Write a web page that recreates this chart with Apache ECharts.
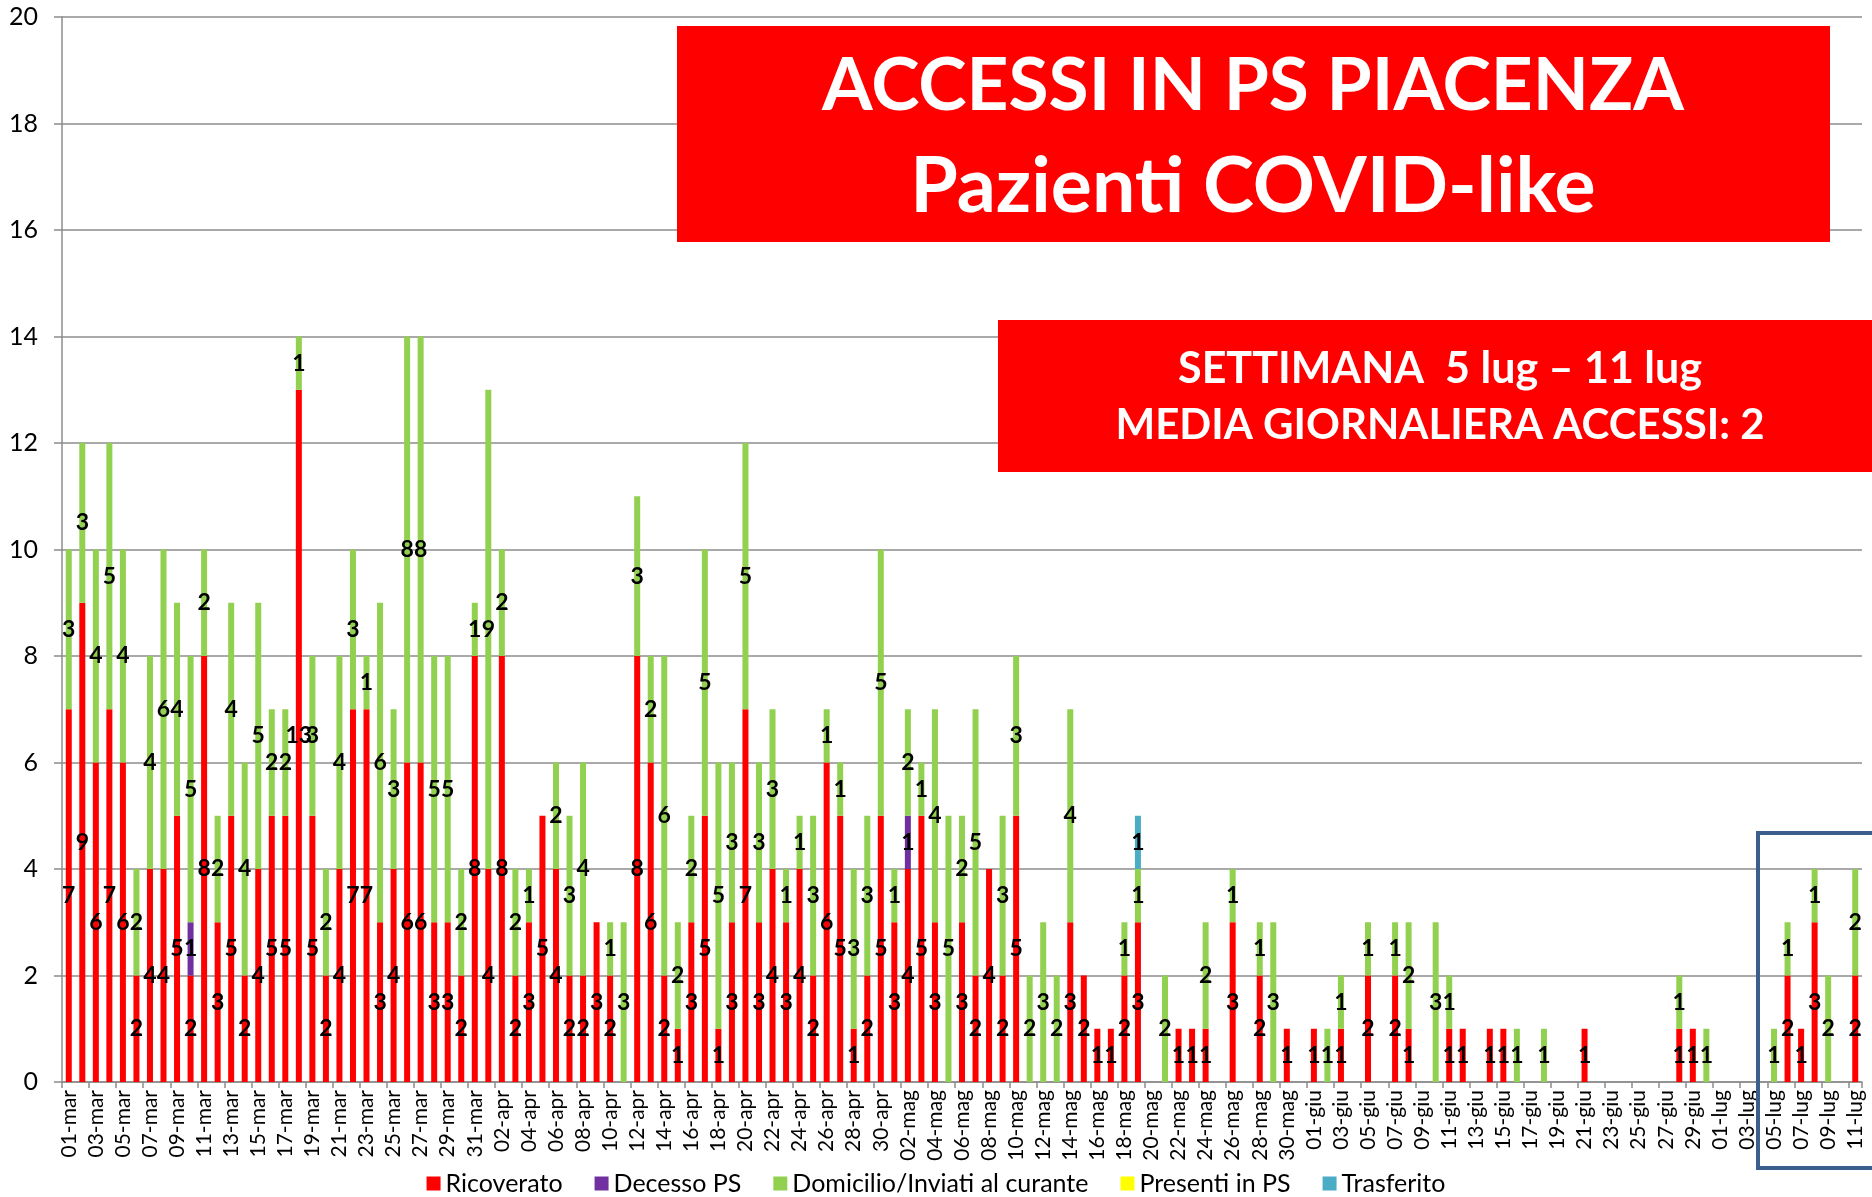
<!DOCTYPE html>
<html>
<head>
<meta charset="utf-8">
<script src="https://cdn.jsdelivr.net/npm/echarts@6/dist/echarts.min.js"></script>
<style>
html,body{margin:0;padding:0;background:#fff;}
#chart{width:1872px;height:1197px;}
</style>
</head>
<body>
<div id="chart"></div>
<script>
const categories = [
 '01-mar','02-mar','03-mar','04-mar','05-mar','06-mar','07-mar','08-mar','09-mar','10-mar','11-mar','12-mar','13-mar','14-mar','15-mar','16-mar','17-mar','18-mar','19-mar','20-mar','21-mar','22-mar','23-mar','24-mar','25-mar','26-mar','27-mar','28-mar','29-mar','30-mar','31-mar',
 '01-apr','02-apr','03-apr','04-apr','05-apr','06-apr','07-apr','08-apr','09-apr','10-apr','11-apr','12-apr','13-apr','14-apr','15-apr','16-apr','17-apr','18-apr','19-apr','20-apr','21-apr','22-apr','23-apr','24-apr','25-apr','26-apr','27-apr','28-apr','29-apr','30-apr',
 '01-mag','02-mag','03-mag','04-mag','05-mag','06-mag','07-mag','08-mag','09-mag','10-mag','11-mag','12-mag','13-mag','14-mag','15-mag','16-mag','17-mag','18-mag','19-mag','20-mag','21-mag','22-mag','23-mag','24-mag','25-mag','26-mag','27-mag','28-mag','29-mag','30-mag','31-mag',
 '01-giu','02-giu','03-giu','04-giu','05-giu','06-giu','07-giu','08-giu','09-giu','10-giu','11-giu','12-giu','13-giu','14-giu','15-giu','16-giu','17-giu','18-giu','19-giu','20-giu','21-giu','22-giu','23-giu','24-giu','25-giu','26-giu','27-giu','28-giu','29-giu','30-giu',
 '01-lug','02-lug','03-lug','04-lug','05-lug','06-lug','07-lug','08-lug','09-lug','10-lug','11-lug'
];

const ricoverato = [
 7,9,6,7,6,2,4,4,5,2, 8,3,5,2,4,5,5,13,5,2, 4,7,7,3,4,6,6,3,3,2,8,
 4,8,2,3,5,4,2,2,3,2, 0,8,6,2,1,3,5,1,3,7, 3,4,3,4,2,6,5,1,2,5,
 3,4,5,3,0,3,2,4,2,5, 0,0,0,3,2,1,1,2,3,0, 0,1,1,1,0,3,0,2,0,1,0,
 1,0,1,0,2,0,2,1,0,0, 1,1,0,1,1,0,0,0,0,0, 1,0,0,0,0,0,0,1,1,0,
 0,0,0,0,0,2,1,3,0,0,2
];
const decessoPS = [
 0,0,0,0,0,0,0,0,0,1, 0,0,0,0,0,0,0,0,0,0, 0,0,0,0,0,0,0,0,0,0,0,
 0,0,0,0,0,0,0,0,0,0, 0,0,0,0,0,0,0,0,0,0, 0,0,0,0,0,0,0,0,0,0,
 0,1,0,0,0,0,0,0,0,0, 0,0,0,0,0,0,0,0,0,0, 0,0,0,0,0,0,0,0,0,0,0,
 0,0,0,0,0,0,0,0,0,0, 0,0,0,0,0,0,0,0,0,0, 0,0,0,0,0,0,0,0,0,0,
 0,0,0,0,0,0,0,0,0,0,0
];
const domicilio = [
 3,3,4,5,4,2,4,6,4,5, 2,2,4,4,5,2,2,1,3,2, 4,3,1,6,3,8,8,5,5,2,1,
 9,2,2,1,0,2,3,4,0,1, 3,3,2,6,2,2,5,5,3,5, 3,3,1,1,3,1,1,3,3,5,
 1,2,1,4,5,2,5,0,3,3, 2,3,2,4,0,0,0,1,1,0, 2,0,0,2,0,1,0,1,3,0,0,
 0,1,1,0,1,0,1,2,0,3, 1,0,0,0,0,1,0,1,0,0, 0,0,0,0,0,0,0,1,0,1,
 0,0,0,0,1,1,0,1,2,0,2
];
const presentiPS = [
 0,0,0,0,0,0,0,0,0,0, 0,0,0,0,0,0,0,0,0,0, 0,0,0,0,0,0,0,0,0,0,0,
 0,0,0,0,0,0,0,0,0,0, 0,0,0,0,0,0,0,0,0,0, 0,0,0,0,0,0,0,0,0,0,
 0,0,0,0,0,0,0,0,0,0, 0,0,0,0,0,0,0,0,0,0, 0,0,0,0,0,0,0,0,0,0,0,
 0,0,0,0,0,0,0,0,0,0, 0,0,0,0,0,0,0,0,0,0, 0,0,0,0,0,0,0,0,0,0,
 0,0,0,0,0,0,0,0,0,0,0
];
const trasferito = [
 0,0,0,0,0,0,0,0,0,0, 0,0,0,0,0,0,0,0,0,0, 0,0,0,0,0,0,0,0,0,0,0,
 0,0,0,0,0,0,0,0,0,0, 0,0,0,0,0,0,0,0,0,0, 0,0,0,0,0,0,0,0,0,0,
 0,0,0,0,0,0,0,0,0,0, 0,0,0,0,0,0,0,0,1,0, 0,0,0,0,0,0,0,0,0,0,0,
 0,0,0,0,0,0,0,0,0,0, 0,0,0,0,0,0,0,0,0,0, 0,0,0,0,0,0,0,0,0,0,
 0,0,0,0,0,0,0,0,0,0,0
];
const seriesNames = ['Ricoverato','Decesso PS','Domicilio/Inviati al curante','Presenti in PS','Trasferito'];
const seriesColors = ['#FF0000','#7030A0','#92D050','#FFFF00','#4BACC6'];
const seriesValues = [ricoverato, decessoPS, domicilio, presentiPS, trasferito];

const chart = echarts.init(document.getElementById('chart'), null, {renderer:'canvas'});
const FONT = 'Lato, "Liberation Sans", sans-serif';
const gray = '#8C8C8C';

const series = seriesNames.map((name, i) => ({
  name: name,
  type: 'bar',
  stack: 'total',
  barWidth: 6,
  itemStyle: {color: seriesColors[i]},
  data: seriesValues[i].map(v => v === 0 ? null : v),
  label: {
    show: true,
    position: 'inside',
    color: '#000',
    fontFamily: FONT,
    fontWeight: 'bold',
    fontSize: 23,
    formatter: p => (p.value ? String(p.value) : '')
  }
}));

chart.setOption({
  animation: false,
  backgroundColor: '#fff',
  grid: {left: 62, right: 10, top: 17, bottom: 115, containLabel: false},
  legend: {
    left: 'center',
    top: 1166,
    itemWidth: 14,
    itemHeight: 14,
    itemGap: 32,
    icon: 'rect',
    textStyle: {fontFamily: FONT, fontSize: 25, color: '#000'},
    data: seriesNames
  },
  xAxis: {
    type: 'category',
    data: categories,
    axisLine: {lineStyle: {color: gray, width: 1.5}},
    axisTick: {show: true, interval: 1, length: 6, lineStyle: {color: gray, width: 1.5}},
    axisLabel: {interval: 1, rotate: 90, fontFamily: FONT, fontSize: 21, color: '#000', margin: 8}
  },
  yAxis: {
    type: 'value',
    min: 0, max: 20, interval: 2,
    axisLine: {show: true, lineStyle: {color: gray, width: 1.5}},
    axisTick: {show: true, length: 8, lineStyle: {color: gray, width: 1.5}},
    axisLabel: {fontFamily: FONT, fontSize: 25, color: '#000', margin: 24},
    splitLine: {show: true, lineStyle: {color: gray, width: 1.5}}
  },
  series: series,
  graphic: [
    {type: 'rect', z: 100, shape: {x: 677, y: 26, width: 1153, height: 216}, style: {fill: '#FF0000'}},
    {type: 'text', z: 101, x: 1253, y: 86, style: {text: 'ACCESSI IN PS PIACENZA', fill: '#fff', font: 'bold 73px ' + FONT, textAlign: 'center', textVerticalAlign: 'middle'}},
    {type: 'text', z: 101, x: 1253, y: 187, style: {text: 'Pazienti COVID-like', fill: '#fff', font: 'bold 77px ' + FONT, textAlign: 'center', textVerticalAlign: 'middle'}},
    {type: 'rect', z: 100, shape: {x: 998, y: 320, width: 900, height: 152}, style: {fill: '#FF0000'}},
    {type: 'text', z: 101, x: 1440, y: 369, style: {text: 'SETTIMANA  5 lug \u2013 11 lug', fill: '#fff', font: 'bold 43px ' + FONT, textAlign: 'center', textVerticalAlign: 'middle'}},
    {type: 'text', z: 101, x: 1440, y: 425, style: {text: 'MEDIA GIORNALIERA ACCESSI: 2', fill: '#fff', font: 'bold 42px ' + FONT, textAlign: 'center', textVerticalAlign: 'middle'}},
    {type: 'rect', z: 100, shape: {x: 1758, y: 833, width: 200, height: 335}, style: {fill: 'none', stroke: '#3B5E8C', lineWidth: 4}}
  ]
});
</script>
</body>
</html>
